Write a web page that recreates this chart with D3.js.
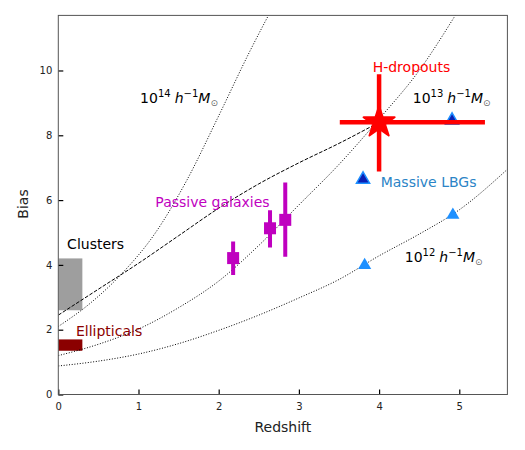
<!DOCTYPE html>
<html lang="en">
<head>
    <meta charset="UTF-8">
    <title>Bias vs Redshift</title>
    <style>
        body { margin: 0; background: #fff; }
        svg text { font-family: "DejaVu Sans", sans-serif; }
    </style>
</head>
<body>
<div id="graph"></div>

<script src="https://cdn.jsdelivr.net/npm/d3@7"></script>
<script>
    // halo bias tracks
    var halo12Z = [0, 0.5, 1, 1.5, 2, 2.5, 3, 3.5, 4, 4.5, 5, 5.6];
    var halo12B = [0.88, 1.03, 1.25, 1.57, 1.98, 2.45, 2.98, 3.55, 4.28, 4.95, 5.7, 6.95];
    var halo13Z = [0, 0.5, 1, 1.5, 2, 2.5, 3, 3.5, 4, 4.5, 4.95];
    var halo13B = [1.2, 1.55, 2.02, 2.68, 3.5, 4.6, 5.85, 7.1, 8.5, 10.0, 11.7];
    var halo14Z = [0, 0.4, 0.8, 1.2, 1.6, 2.0, 2.4, 2.62];
    var halo14B = [2.1, 2.82, 3.75, 4.95, 6.6, 8.6, 10.65, 11.7];
    // dashed evolution track ending at the H-dropouts
    var evolZ = [0, 0.5, 1, 1.5, 2, 2.5, 3, 3.5, 4];
    var evolB = [2.45, 3.25, 4.05, 4.9, 5.75, 6.5, 7.15, 7.75, 8.4];

    // passive galaxies: z, bias, error low / high
    var passiveZ = [2.18, 2.64, 2.83];
    var passiveB = [4.21, 5.13, 5.39];
    var passiveLo = [3.69, 4.54, 4.25];
    var passiveHi = [4.72, 5.69, 6.54];

    // LBG triangles
    var massiveZ = [3.8, 4.91];
    var massiveB = [6.67, 8.49];
    var lbgZ = [3.82, 4.92];
    var lbgB = [4.02, 5.57];

    // H-dropouts
    var hdropZ = [4.0], hdropB = [8.4];
    var hdropZlo = [3.51], hdropZhi = [5.32];
    var hdropBlo = [6.88], hdropBhi = [9.88];

    // local samples (z range, bias range)
    var clusterZ = [0, 0.3], clusterB = [2.6, 4.2];
    var ellipZ = [0, 0.3], ellipB = [1.35, 1.7];

    var xTicks = [0, 1, 2, 3, 4, 5];
    var yTicks = [0, 2, 4, 6, 8, 10];

    var width = 525, height = 450;
    var padL = 58.3, padR = 507.4, padT = 15.4, padB = 394.5;

    var svg = d3.select("#graph").append("svg")
        .attr("width", width).attr("height", height);

    var x = d3.scaleLinear().domain([0, 5.6]).range([padL, padR]);
    var y = d3.scaleLinear().domain([0, 11.7]).range([padB, padT]);

    svg.append("clipPath").attr("id", "clip")
        .append("rect")
        .attr("x", padL).attr("y", padT)
        .attr("width", padR - padL).attr("height", padB - padT);

    var plot = svg.append("g").attr("clip-path", "url(#clip)");

    // boxes
    plot.append("rect")
        .attr("x", x(clusterZ[0])).attr("y", y(clusterB[1]))
        .attr("width", x(clusterZ[1]) - x(clusterZ[0]))
        .attr("height", y(clusterB[0]) - y(clusterB[1]))
        .attr("fill", "#9e9e9e");
    plot.append("rect")
        .attr("x", x(ellipZ[0])).attr("y", y(ellipB[1]))
        .attr("width", x(ellipZ[1]) - x(ellipZ[0]))
        .attr("height", y(ellipB[0]) - y(ellipB[1]))
        .attr("fill", "#8b0000");

    var line = d3.line()
        .x(function(d) { return x(d[0]); })
        .y(function(d) { return y(d[1]); })
        .curve(d3.curveMonotoneX);

    function track(zs, bs, dash) {
        plot.append("path")
            .datum(d3.zip(zs, bs))
            .attr("d", line)
            .attr("fill", "none")
            .attr("stroke", "#000")
            .attr("stroke-width", 1)
            .attr("stroke-dasharray", dash);
    }
    track(halo12Z, halo12B, "1,1.7");
    track(halo13Z, halo13B, "1,1.7");
    track(halo14Z, halo14B, "1,1.7");
    track(evolZ, evolB, "3.7,1.6");

    // passive galaxies
    passiveZ.forEach(function(z, i) {
        plot.append("line")
            .attr("x1", x(z)).attr("x2", x(z))
            .attr("y1", y(passiveLo[i])).attr("y2", y(passiveHi[i]))
            .attr("stroke", "#bf00bf").attr("stroke-width", 4);
        plot.append("rect")
            .attr("x", x(z) - 6).attr("y", y(passiveB[i]) - 6)
            .attr("width", 12).attr("height", 12)
            .attr("fill", "#bf00bf");
    });

    var tri = d3.symbol().type(d3.symbolTriangle).size(75);
    lbgZ.forEach(function(z, i) {
        plot.append("path")
            .attr("d", tri)
            .attr("transform", "translate(" + x(z) + "," + (y(lbgB[i]) + 1) + ")")
            .attr("fill", "#1e90ff");
    });
    massiveZ.forEach(function(z, i) {
        plot.append("path")
            .attr("d", tri)
            .attr("transform", "translate(" + x(z) + "," + (y(massiveB[i]) + 1) + ")")
            .attr("fill", "#0a1fb4")
            .attr("stroke", "#1e90ff").attr("stroke-width", 1.5);
    });

    // H-dropouts
    hdropZ.forEach(function(z, i) {
        plot.append("line")
            .attr("x1", x(hdropZlo[i])).attr("x2", x(hdropZhi[i]))
            .attr("y1", y(hdropB[i])).attr("y2", y(hdropB[i]))
            .attr("stroke", "red").attr("stroke-width", 4.5);
        plot.append("line")
            .attr("x1", x(z)).attr("x2", x(z))
            .attr("y1", y(hdropBlo[i])).attr("y2", y(hdropBhi[i]))
            .attr("stroke", "red").attr("stroke-width", 4.5);
        plot.append("path")
            .attr("d", d3.symbol().type(d3.symbolStar).size(300))
            .attr("transform", "translate(" + x(z) + "," + y(hdropB[i]) + ")")
            .attr("fill", "red")
            .attr("stroke", "red").attr("stroke-width", 2)
            .attr("stroke-linejoin", "round");
    });

    // axes
    svg.append("g")
        .attr("transform", "translate(0," + padB + ")")
        .call(d3.axisBottom(x).tickValues(xTicks).tickFormat(d3.format("d"))
            .tickSize(-5).tickPadding(8))
        .call(function(g) { g.select(".domain").remove(); })
        .selectAll("text").attr("font-size", 10).attr("fill", "#222");

    svg.append("g")
        .attr("transform", "translate(" + padL + ",0)")
        .call(d3.axisLeft(y).tickValues(yTicks).tickFormat(d3.format("d"))
            .tickSize(-5).tickPadding(6))
        .call(function(g) { g.select(".domain").remove(); })
        .selectAll("text").attr("font-size", 10).attr("fill", "#222");

    svg.selectAll(".tick line").attr("stroke", "#000").attr("stroke-width", 1.2);

    svg.append("rect")
        .attr("x", padL).attr("y", padT)
        .attr("width", padR - padL).attr("height", padB - padT)
        .attr("fill", "none").attr("stroke", "#555").attr("stroke-width", 1);

    svg.append("text")
        .attr("x", (padL + padR) / 2).attr("y", 432)
        .attr("text-anchor", "middle").attr("font-size", 14)
        .attr("fill", "#222")
        .text("Redshift");

    svg.append("text")
        .attr("transform", "translate(28,204) rotate(-90)")
        .attr("text-anchor", "middle").attr("font-size", 14)
        .attr("fill", "#222")
        .text("Bias");

    // labels
    function label(z, b, txt, color) {
        svg.append("text")
            .attr("x", x(z)).attr("y", y(b))
            .attr("font-size", 14).attr("fill", color)
            .text(txt);
    }
    label(3.92, 9.95, "H-dropouts", "red");
    label(4.02, 6.4, "Massive LBGs", "#2b84c6");
    label(1.21, 5.79, "Passive galaxies", "#bf00bf");
    label(0.11, 4.49, "Clusters", "#000");
    label(0.22, 1.81, "Ellipticals", "#8b0000");

    function massLabel(z, b, exp) {
        var t = svg.append("text")
            .attr("x", x(z)).attr("y", y(b))
            .attr("font-size", 14).attr("fill", "#000");
        t.append("tspan").text("10");
        t.append("tspan").attr("dy", -6).attr("font-size", 10).text(exp);
        t.append("tspan").attr("dy", 6).attr("dx", 4).attr("font-style", "italic").text("h");
        t.append("tspan").attr("dy", -6).attr("font-size", 10).text("\u22121");
        t.append("tspan").attr("dy", 6).attr("font-style", "italic").text("M");
        t.append("tspan").attr("dy", 3).attr("font-size", 9).attr("fill", "#666").text("\u2299");
    }
    massLabel(1.02, 9.0, "14");
    massLabel(4.42, 9.0, "13");
    massLabel(4.32, 4.09, "12");
</script>
</body>
</html>
